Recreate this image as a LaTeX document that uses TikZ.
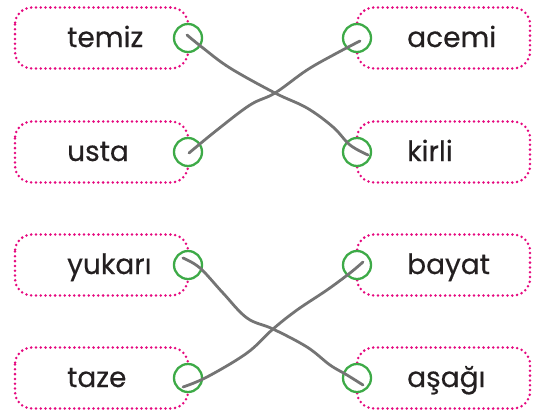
\documentclass[tikz,border=0pt]{standalone}
\usepackage{fontspec}
\setmainfont{Poppins}
\newfontfamily\wordfont{Poppins}[FakeBold=0.4]
\definecolor{dotpink}{HTML}{E5097F}
\definecolor{ringgreen}{HTML}{3DAA47}
\definecolor{wiregray}{HTML}{747474}
\definecolor{inkdark}{HTML}{231F20}
\tikzset{
  wordbox/.style={draw=dotpink, line width=2.8pt, dash pattern=on 0pt off 4.8pt, line cap=round, rounded corners=17pt},
  ring/.style={circle, draw=ringgreen, line width=2.3pt, fill=white, minimum size=28pt, inner sep=0pt},
  word/.style={anchor=base west, inner sep=0pt, font=\wordfont\fontsize{28}{30}\selectfont, text=inkdark},
  wire/.style={draw=wiregray, line width=2.8pt, line cap=round, line join=round}
}
\begin{document}
\begin{tikzpicture}[x=1pt,y=-1pt]
\useasboundingbox (0,0) rectangle (553,410);
% boxes
\foreach \r in {38,152,265,378}{
  \draw[wordbox] (15,\r-30.5) rectangle (188,\r+30.5);
  \draw[wordbox] (357,\r-30.5) rectangle (530,\r+30.5);
}
% rings
\node[ring] (l1) at (188,38) {};
\node[ring] (l2) at (188,152) {};
\node[ring] (l3) at (188,265) {};
\node[ring] (l4) at (188,378) {};
\node[ring] (r1) at (357,38) {};
\node[ring] (r2) at (357,152) {};
\node[ring] (r3) at (357,265) {};
\node[ring] (r4) at (357,378) {};
% words
\node[word] (w1) at (67,47) {temiz};
\node[word] (w2) at (67,161) {usta};
\node[word] (w3) at (67,274) {yukarı};
\node[word] (w4) at (67,387) {taze};
\node[word] (v1) at (407,47) {acemi};
\node[word] (v2) at (407,161) {kirli};
\node[word] (v3) at (407,274) {bayat};
\node[word] (v4) at (407,387) {aşağı};
% wires
\draw[wire] plot[smooth, tension=0.6] coordinates {([shift={(-1,-3)}]l1.center) (203,48) (230,68) (275,93) (307,108) (333,127) (350,145) ([shift={(11,3)}]r2.center)};
\draw[wire] plot[smooth, tension=0.6] coordinates {([shift={(1,1)}]l2.center) (217,130) (250,105) (275,93) (307,70) (337,53) ([shift={(3,3)}]r1.center)};
\draw[wire] plot[smooth, tension=0.6] coordinates {([shift={(-5,-7)}]l3.center) (200,268) (223,293) (247,318) (273,329) (307,347) (330,365) (347,375) ([shift={(6,7)}]r4.center)};
\draw[wire] plot[smooth, tension=0.6] coordinates {([shift={(-5,9)}]l4.center) (207,377) (247,353) (273,329) (297,310) (327,290) (350,273) ([shift={(6,-3)}]r3.center)};
\end{tikzpicture}
\end{document}
